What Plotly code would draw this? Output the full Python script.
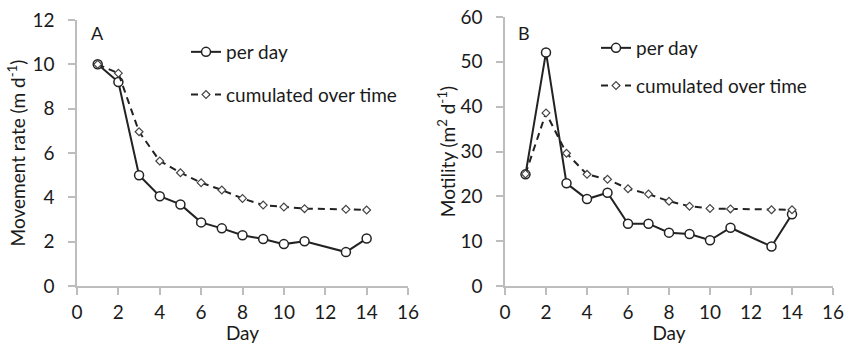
import plotly.graph_objects as go

days = [1, 2, 3, 4, 5, 6, 7, 8, 9, 10, 11, 13, 14]
rate_per_day = [10.0, 9.2, 5.0, 4.05, 3.68, 2.87, 2.6, 2.29, 2.12, 1.89, 2.02, 1.53, 2.14]
rate_cum = [10.0, 9.6, 6.96, 5.64, 5.11, 4.66, 4.33, 3.95, 3.65, 3.56, 3.49, 3.46, 3.43]
mot_per_day = [24.9, 52.1, 22.9, 19.4, 20.8, 13.9, 13.9, 11.9, 11.6, 10.2, 13.0, 8.8, 16.0]
mot_cum = [25.0, 38.6, 29.6, 24.9, 23.8, 21.7, 20.5, 18.9, 17.8, 17.3, 17.2, 17.0, 17.0]
x_ticks = [0, 2, 4, 6, 8, 10, 12, 14, 16]

W, H = 844, 344
FONT = "Lato"
FS = 19
TXT = "#1a1a1a"
AX = "#bdbdbd"

fig = go.Figure()

def add_pair(xa, ya, per, cum, legend):
    fig.add_trace(go.Scatter(
        x=days, y=per, name="per day", mode="lines+markers",
        xaxis=xa, yaxis=ya, legend=legend, legendgroup="a" + legend,
        line=dict(color="#222222", width=2),
        marker=dict(symbol="circle", size=9, color="white",
                    line=dict(color="#222222", width=1.5))))
    fig.add_trace(go.Scatter(
        x=days, y=cum, name="cumulated over time", mode="lines+markers",
        xaxis=xa, yaxis=ya, legend=legend, legendgroup="b" + legend,
        line=dict(color="#222222", width=2, dash="7px,5px"),
        marker=dict(symbol="diamond", size=6, color="white",
                    line=dict(color="#444444", width=1.2))))

add_pair("x", "y", rate_per_day, rate_cum, "legend")
add_pair("x2", "y2", mot_per_day, mot_cum, "legend2")

def xaxis(dom, anchor):
    return dict(domain=dom, range=[0, 16], tickvals=x_ticks, showgrid=False, anchor=anchor,
                automargin=True, ticklabeloverflow="allow",
                zeroline=False, showline=True, linecolor=AX, linewidth=1.5,
                ticks="outside", ticklen=7, tickcolor=AX, tickwidth=1.5,
                ticklabelstandoff=1,
                tickfont=dict(family=FONT, size=FS, color=TXT),
                title=dict(text="Day", font=dict(family=FONT, size=FS, color=TXT), standoff=1))

def yaxis(dom, rng, dt, title, anchor, standoff):
    return dict(domain=dom, range=rng, dtick=dt, showgrid=False, anchor=anchor,
                automargin=True, ticklabeloverflow="allow",
                zeroline=False, showline=True, linecolor=AX, linewidth=1.5,
                ticks="outside", ticklen=7, tickcolor=AX, tickwidth=1.5,
                ticklabelstandoff=10,
                tickfont=dict(family=FONT, size=FS, color=TXT),
                title=dict(text=title, font=dict(family=FONT, size=FS, color=TXT), standoff=standoff))

fig.update_layout(
    width=W, height=H,
    margin=dict(l=0, r=0, t=0, b=0, autoexpand=False),
    paper_bgcolor="white", plot_bgcolor="white",
    showlegend=True,
    xaxis=xaxis([77 / W, 408 / W], "y"),
    yaxis=yaxis([1 - 286 / H, 1 - 20 / H], [0, 12], 2, "Movement rate (m d<sup>-1</sup>)", "x", 2),
    xaxis2=xaxis([505 / W, 833 / W], "y2"),
    yaxis2=yaxis([1 - 286 / H, 1 - 17 / H], [0, 60], 10, "Motility (m<sup>2</sup> d<sup>-1</sup>)", "x2", 0),
    legend=dict(x=186 / W, y=1 - 33 / H, xanchor="left", yanchor="top",
                bgcolor="rgba(0,0,0,0)", tracegroupgap=15,
                font=dict(family=FONT, size=FS, color=TXT), itemwidth=30),
    legend2=dict(x=596 / W, y=1 - 29 / H, xanchor="left", yanchor="top",
                 bgcolor="rgba(0,0,0,0)", tracegroupgap=10,
                 font=dict(family=FONT, size=FS, color=TXT), itemwidth=30),
    annotations=[
        dict(text="A", x=89 / W, y=1 - 33 / H, xref="paper", yref="paper",
             xanchor="left", yanchor="middle", showarrow=False,
             font=dict(family=FONT, size=18, color=TXT)),
        dict(text="B", x=516 / W, y=1 - 33 / H, xref="paper", yref="paper",
             xanchor="left", yanchor="middle", showarrow=False,
             font=dict(family=FONT, size=18, color=TXT)),
    ],
)

fig.write_html("out.html")
